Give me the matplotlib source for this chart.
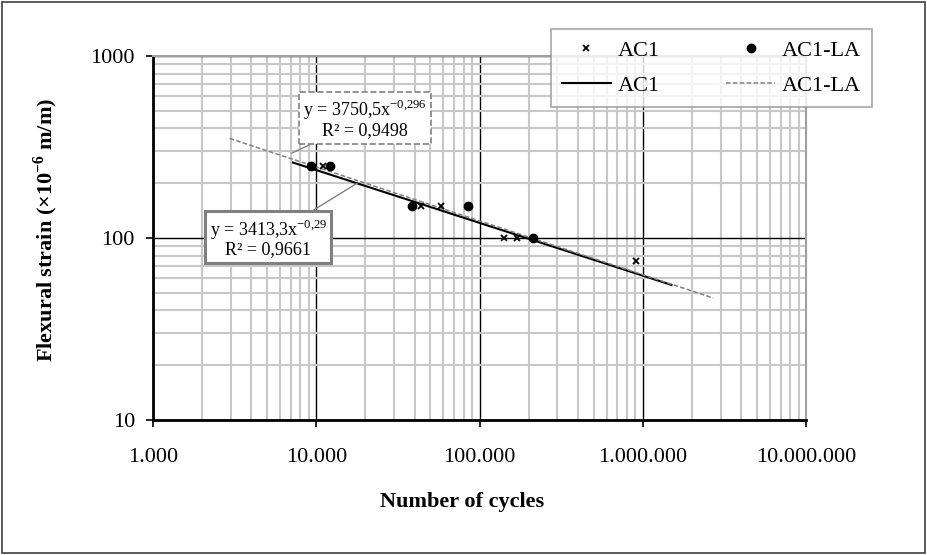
import matplotlib.pyplot as plt
import numpy as np
from matplotlib.ticker import FuncFormatter, LogLocator, NullFormatter
from matplotlib.patches import Rectangle

plt.rcParams['font.family'] = ['Liberation Serif', 'DejaVu Serif']
plt.rcParams['mathtext.fontset'] = 'custom'
plt.rcParams['mathtext.rm'] = 'Liberation Serif'
plt.rcParams['mathtext.bf'] = 'Liberation Serif:bold'

# data
ac1_cycles = [9300, 11000, 44000, 58500, 142000, 169000, 909000]
ac1_strain = [250, 250, 150, 150, 100, 100, 75]
ac1la_cycles = [9300, 12200, 38400, 85000, 214000]
ac1la_strain = [250, 250, 150, 150, 100]

# power trendlines y = a * x^b, drawn over the span Excel showed
ac1_fit = [3413.3, -0.29]
ac1_span = [7200, 1500000]
ac1la_fit = [3750.5, -0.296]
ac1la_span = [2950, 2700000]

x_ticks = [1e3, 1e4, 1e5, 1e6, 1e7]
y_ticks = [10, 100, 1000]


def thousands(v, pos):
    return format(int(round(v)), ',').replace(',', '.')


fig = plt.figure(figsize=(9.27, 5.55), dpi=100)
ax = fig.add_axes([153 / 927, 1 - 420 / 555, (806 - 153) / 927, (420 - 56) / 555])
fig.patches.append(Rectangle((0.002, 0.003), 0.996, 0.993, transform=fig.transFigure,
                             fill=False, edgecolor='#404040', lw=1.2))

ax.set_xscale('log')
ax.set_yscale('log')
ax.set_xlim(1e3, 1e7)
ax.set_ylim(10, 1000)

# grid: light minor lines, dark decade lines
ax.xaxis.set_minor_locator(LogLocator(base=10, subs=np.arange(2, 10)))
ax.yaxis.set_minor_locator(LogLocator(base=10, subs=np.arange(2, 10)))
ax.xaxis.set_minor_formatter(NullFormatter())
ax.yaxis.set_minor_formatter(NullFormatter())
ax.grid(which='minor', color='#c8c8c8', lw=1.5, zorder=0)
ax.grid(which='major', color='black', lw=1.0, zorder=0.5)
ax.tick_params(which='minor', length=0)
ax.tick_params(which='major', direction='out', length=5, width=1.2, labelsize=16)
ax.tick_params(axis='x', pad=15)
ax.tick_params(axis='y', pad=8)
ax.set_xticks(x_ticks)
ax.set_yticks(y_ticks)
ax.xaxis.set_major_formatter(FuncFormatter(thousands))
ax.yaxis.set_major_formatter(FuncFormatter(lambda v, p: '%d' % round(v)))

for s in ['left', 'bottom']:
    ax.spines[s].set_linewidth(2)
    ax.spines[s].set_color('black')
for s in ['top', 'right']:
    ax.spines[s].set_linewidth(1.5)
    ax.spines[s].set_color('#a0a0a0')

# trendlines
xs = np.geomspace(ac1_span[0], ac1_span[1], 100)
l1, = ax.plot(xs, ac1_fit[0] * xs ** ac1_fit[1], color='black', lw=1.5, zorder=3)
xs2 = np.geomspace(ac1la_span[0], ac1la_span[1], 100)
l2, = ax.plot(xs2, ac1la_fit[0] * xs2 ** ac1la_fit[1], color='#808080', lw=1.1,
              ls=(0, (3, 1.5)), zorder=3)

# points
p1, = ax.plot(ac1_cycles, ac1_strain, 'x', color='black', ms=5, mew=1.3, zorder=4)
p2, = ax.plot(ac1la_cycles, ac1la_strain, 'o', color='black', ms=6, zorder=4)

leg = fig.legend([p1, l1, p2, l2], ['AC1', 'AC1', 'AC1-LA', 'AC1-LA'], ncol=2,
                 loc='upper right', bbox_to_anchor=(872 / 927, 1 - 29 / 555),
                 fontsize=16, frameon=True, fancybox=False, edgecolor='#909090',
                 handlelength=2.2, columnspacing=3.0, borderpad=0.5, labelspacing=0.65,
                 handletextpad=0.3, borderaxespad=0)
leg.get_frame().set_linewidth(1.2)

# trendline labels
ax.annotate('y = 3750,5x$^{\\mathdefault{-0{,}296}}$\nR² = 0,9498',
            xy=(7100, 293), xytext=(8300, 451), textcoords='data',
            fontsize=13, ha='left', va='center', multialignment='center', linespacing=1.0,
            bbox=dict(boxstyle='square,pad=0.25', fc='white', ec='#808080', ls='--', lw=1.2),
            arrowprops=dict(arrowstyle='-', color='#808080', lw=1, shrinkA=0, shrinkB=0),
            zorder=5)
ax.annotate('y = 3413,3x$^{\\mathdefault{-0{,}29}}$\nR² = 0,9661',
            xy=(17800, 200), xytext=(2220, 100), textcoords='data',
            fontsize=13, ha='left', va='center', multialignment='center', linespacing=1.0,
            bbox=dict(boxstyle='square,pad=0.25', fc='white', ec='#808080', lw=2.2),
            arrowprops=dict(arrowstyle='-', color='#808080', lw=1, shrinkA=0, shrinkB=0),
            zorder=5)

fig.text(462 / 927, 1 - 502 / 555, 'Number of cycles', fontsize=16, fontweight='bold',
         ha='center', va='center')
fig.text(46 / 927, 1 - 230 / 555, 'Flexural strain (×10$^{\\mathbf{-6}}$ m/m)', fontsize=16,
         fontweight='bold', rotation=90, ha='center', va='center')

fig.savefig('out.png', dpi=100)
